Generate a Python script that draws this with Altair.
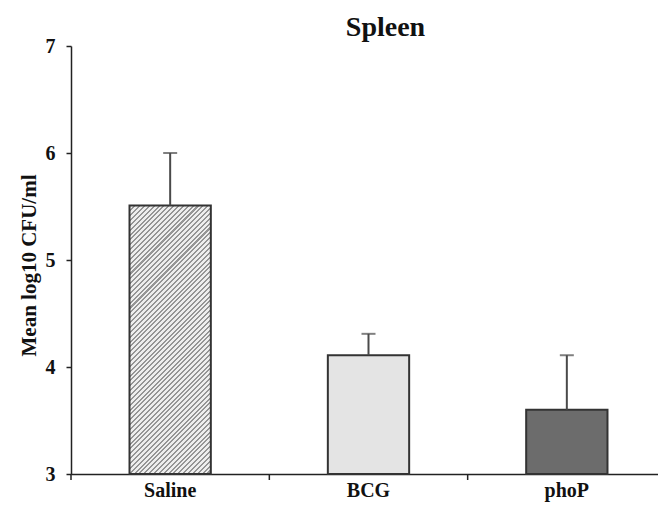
import altair as alt
import pandas as pd

groups = ["Saline", "BCG", "phoP"]
means = [5.51, 4.11, 3.60]
uppers = [6.00, 4.31, 4.11]

df = pd.DataFrame({"group": groups, "mean": means, "upper": uppers})

FONT = "Liberation Serif"
W, H = 595, 428
YMIN, YMAX = 3, 7
PAD_IN = 0.59
STEP = W / 3
GAP_HALF = PAD_IN * STEP / 2  # half the gap between two bars, in pixels

# diagonal hatch for Saline via a striped linear gradient
bar_px_w = STEP * (1 - PAD_IN)
bar_px_h = (means[0] - YMIN) / (YMAX - YMIN) * H
vx, vy = bar_px_w / bar_px_h, 1.0
c = (vx + vy) / (vx * vx + vy * vy)
vx, vy = vx * c, vy * c
diag_px = (bar_px_w + bar_px_h) / 2 ** 0.5
n = int(diag_px / 3.4)
stops = []
for i in range(n):
    stops += [
        {"offset": i / n, "color": "#959595"},
        {"offset": (i + 0.42) / n, "color": "#959595"},
        {"offset": (i + 0.42) / n, "color": "#eeeeee"},
        {"offset": (i + 1) / n, "color": "#eeeeee"},
    ]
hatch = {"gradient": "linear", "x1": 0, "y1": 0, "x2": vx, "y2": vy, "stops": stops}

fills = {"Saline": hatch, "BCG": "#e4e4e4", "phoP": "#6c6c6c"}

xscale = alt.Scale(paddingInner=PAD_IN, paddingOuter=PAD_IN / 2)
xenc = alt.X(
    "group:N",
    sort=groups,
    title=None,
    scale=xscale,
    axis=alt.Axis(
        labelAngle=0,
        labelAlign="center",
        labelBaseline="top",
        labelFont=FONT,
        labelFontSize=20,
        labelFontWeight="bold",
        labelColor="#111",
        labelPadding=6,
        ticks=False,
        domainColor="#222",
        domainWidth=1.5,
    ),
)
yenc = alt.Y(
    "mean:Q",
    title="Mean log10 CFU/ml",
    scale=alt.Scale(domain=[YMIN, YMAX], nice=False, zero=False),
    axis=alt.Axis(
        values=[3, 4, 5, 6, 7],
        format="d",
        grid=False,
        labelFont=FONT,
        labelFontSize=20,
        labelFontWeight="bold",
        labelColor="#111",
        labelPadding=11,
        tickSize=5,
        tickColor="#222",
        tickWidth=1.5,
        domainColor="#222",
        domainWidth=1.5,
        titleFont=FONT,
        titleFontSize=21,
        titleFontWeight="bold",
        titleColor="#111",
        titleAngle=270,
        titleBaseline="alphabetic",
        titleAlign="center",
        titleX=-36,
        titleY=219,
    ),
)

base = alt.Chart(df)

bars = [
    base.transform_filter(alt.datum.group == g)
    .mark_bar(fill=fills[g], stroke="#333", strokeWidth=2)
    .encode(x=xenc, y=yenc, y2=alt.Y2(datum=YMIN))
    for g in groups
]

err = base.mark_rule(color="#4a4a4a", strokeWidth=2).encode(
    x=alt.X("group:N", sort=groups), y="mean:Q", y2="upper:Q"
)
cap = base.mark_tick(color="#4a4a4a", thickness=2, size=14, orient="horizontal").encode(
    x=alt.X("group:N", sort=groups), y="upper:Q"
)

# category-boundary ticks below the x axis
edge_left = base.mark_rule(
    color="#222", strokeWidth=1.5, y2Offset=6, xOffset=-GAP_HALF
).encode(
    x=alt.X("group:N", sort=groups, bandPosition=0),
    y=alt.Y(datum=YMIN),
    y2=alt.Y2(datum=YMIN),
)
edge_right = (
    base.transform_filter(alt.datum.group == groups[-1])
    .mark_rule(color="#222", strokeWidth=1.5, y2Offset=6, xOffset=GAP_HALF)
    .encode(
        x=alt.X("group:N", sort=groups, bandPosition=1),
        y=alt.Y(datum=YMIN),
        y2=alt.Y2(datum=YMIN),
    )
)

chart = (
    alt.layer(*bars, err, cap, edge_left, edge_right)
    .properties(
        width=W,
        height=H,
        autosize=alt.AutoSizeParams(type="none"),
        padding={"left": 63, "top": 38, "right": -8, "bottom": 28},
        title=alt.TitleParams(
            "Spleen",
            font=FONT,
            fontSize=28,
            fontWeight="bold",
            color="#111",
            anchor="middle",
            dx=17,
            dy=16,
            offset=10,
        ),
    )
    .configure_view(stroke=None)
)

chart.save("out.html", embed_options={"renderer": "svg", "actions": False})
